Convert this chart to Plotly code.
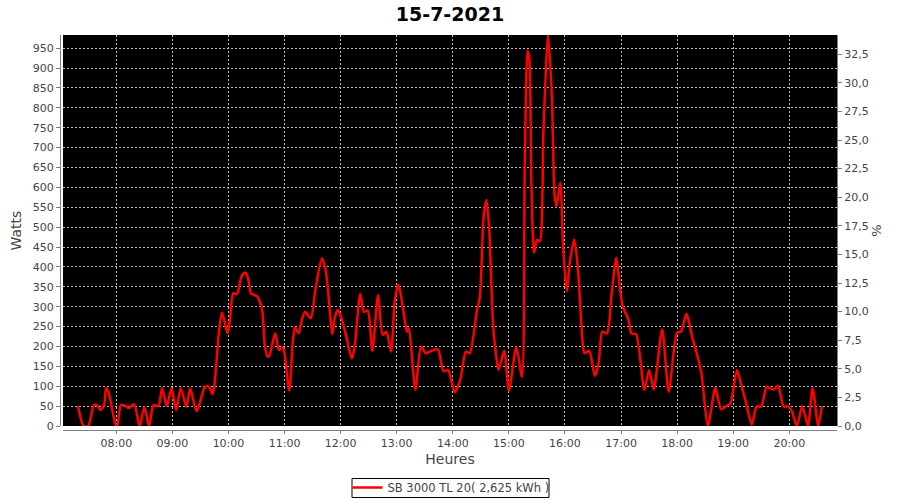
import plotly.graph_objects as go

DATE = "2021-07-15 "
times = ["07:19","07:25","07:30","07:36","07:39","07:43","07:47","07:49","07:52","07:59",
         "08:01","08:05","08:10","08:13","08:19","08:25","08:30","08:35","08:40","08:45",
         "08:49","08:54","08:59","09:04","09:09","09:15","09:19","09:26","09:35","09:39",
         "09:43","09:45","09:50","09:53","09:56","09:59","10:02","10:05","10:09","10:14",
         "10:18","10:21","10:24","10:28","10:31","10:36","10:39","10:42","10:44","10:50",
         "10:54","10:58","11:00","11:05","11:09","11:11","11:15","11:18","11:22","11:28",
         "11:33","11:40","11:44","11:49","11:51","11:54","11:57","12:01","12:06","12:12",
         "12:15","12:21","12:25","12:29","12:34","12:40","12:45","12:49","12:54","12:58",
         "13:02","13:07","13:11","13:13","13:20","13:26","13:31","13:37","13:44","13:50",
         "13:55","14:02","14:08","14:14","14:18","14:26","14:29","14:33","14:36","14:39",
         "14:43","14:47","14:49","14:55","15:00","15:08","15:14","15:17","15:20","15:22",
         "15:24","15:27","15:30","15:33","15:37","15:42","15:46","15:49","15:51","15:55",
         "15:58","16:02","16:05","16:10","16:14","16:18","16:21","16:26","16:32","16:36",
         "16:40","16:45","16:50","16:55","16:59","17:02","17:08","17:11","17:16","17:25",
         "17:30","17:35","17:44","17:51","18:00","18:04","18:10","18:16","18:21","18:26",
         "18:33","18:41","18:47","18:52","18:57","19:04","19:09","19:13","19:20","19:25",
         "19:30","19:36","19:43","19:48","19:54","19:59","20:03","20:08","20:14","20:20",
         "20:25","20:31","20:35"]
watts = [50,0,0,53,53,40,53,95,83,5,
         0,53,50,45,55,0,48,0,53,50,
         95,50,95,40,95,48,95,37,99,99,
         80,103,241,285,262,233,275,334,331,376,
         386,371,334,329,325,292,200,174,178,233,
         191,198,183,89,216,248,233,262,287,271,
         342,422,392,275,231,275,292,271,225,170,
         200,332,287,290,189,329,229,237,187,317,
         355,292,237,246,91,200,183,189,193,138,
         141,85,116,187,183,292,325,526,568,493,
         258,166,141,189,89,198,124,661,944,920,
         619,436,468,464,744,983,828,577,552,612,
         451,338,409,468,392,241,183,189,126,158,
         237,233,334,423,342,300,267,233,231,91,
         141,92,243,86,235,237,282,225,183,133,
         2,96,42,49,57,141,99,65,4,49,
         49,99,91,101,49,49,36,0,50,0,
         95,0,50]

series_name = "SB 3000 TL 20( 2,625 kWh )"
title_text = "15-7-2021"
y_title = "Watts"
y2_title = "%"
x_title = "Heures"

W_MAX = 983
W_PER_PCT = 28.76
pct_vals = [0, 2.5, 5, 7.5, 10, 12.5, 15, 17.5, 20, 22.5, 25, 27.5, 30, 32.5]
pct_text = ["0,0","2,5","5,0","7,5","10,0","12,5","15,0","17,5","20,0","22,5","25,0","27,5","30,0","32,5"]

x = [DATE + t for t in times]

fig = go.Figure()
fig.add_trace(go.Scatter(x=x, y=watts, mode="lines", name=series_name,
                         line=dict(color="#ff0000", width=2.5, shape="spline", smoothing=0.7),
                         hoverinfo="x+y"))
fig.add_trace(go.Scatter(x=[x[0]], y=[0], yaxis="y2", mode="markers",
                         marker=dict(opacity=0), showlegend=False, hoverinfo="skip"))

grid = dict(showgrid=True, gridcolor="#bdbdbd", griddash="2px,2px", gridwidth=1)
tickfont = dict(family="DejaVu Sans", size=11, color="#444444")
ML, MR, MT, MB = 60, 63, 35, 70
PW = 900 - ML - MR
PH = 500 - MT - MB

def px_x(px):
    return (px - ML) / PW

def px_y(py):
    return (500 - MB - py) / PH

fig.update_layout(
    width=900, height=500,
    margin=dict(l=ML, r=MR, t=MT, b=MB, autoexpand=False),
    paper_bgcolor="white", plot_bgcolor="black",
    title=dict(text="<b>" + title_text + "</b>", x=0.5, xanchor="center",
               y=1 - 14 / 500, yanchor="middle",
               font=dict(family="DejaVu Sans", size=19, color="black")),
    font=dict(family="DejaVu Sans", color="#444444"),
    xaxis=dict(type="date", domain=[3 / PW, 1], anchor="free", position=0,
               range=["2021-07-15 07:02:58", "2021-07-15 20:51:04"],
               dtick=3600000, tick0="2021-07-15 08:00", tickformat="%H:%M",
               ticks="outside", ticklen=3, tickcolor="#808080",
               showline=True, linecolor="#808080", linewidth=1,
               tickfont=tickfont, zeroline=False, automargin=False,
               title=dict(text=x_title, font=dict(size=14, color="#444444"), standoff=4),
               **grid),
    yaxis=dict(domain=[4 / PH, 1], anchor="free", position=0,
               range=[0, W_MAX], dtick=50, tick0=0,
               ticks="outside", ticklen=4, tickcolor="#808080",
               showline=True, linecolor="#808080", linewidth=1,
               tickfont=tickfont, zeroline=False, automargin=False,
               title=dict(text=y_title, font=dict(size=14, color="#444444"), standoff=6),
               **grid),
    yaxis2=dict(overlaying="y", side="right", anchor="free", position=1,
                range=[0, W_MAX / W_PER_PCT], tickvals=pct_vals, ticktext=pct_text,
                ticks="outside", ticklen=4, tickcolor="#808080",
                showline=True, linecolor="#808080", linewidth=1,
                tickfont=tickfont, showgrid=False, zeroline=False, automargin=False,
                title=dict(text=y2_title, font=dict(size=13, color="#444444"), standoff=3)),
    showlegend=True,
    legend=dict(orientation="h", x=px_x(451), xanchor="center",
                y=px_y(487.5), yanchor="middle",
                borderwidth=0, bgcolor="rgba(0,0,0,0)",
                font=dict(family="DejaVu Sans", size=11.5, color="#444444"),
                itemwidth=30),
    shapes=[dict(type="rect", xref="paper", yref="paper",
                 x0=px_x(352), x1=px_x(549), y0=px_y(497.5), y1=px_y(478.5),
                 line=dict(color="black", width=1), fillcolor="rgba(0,0,0,0)", layer="below")],
)

fig.write_html("out.html", config={"displayModeBar": False},
               post_script="document.body.style.margin='0';")
